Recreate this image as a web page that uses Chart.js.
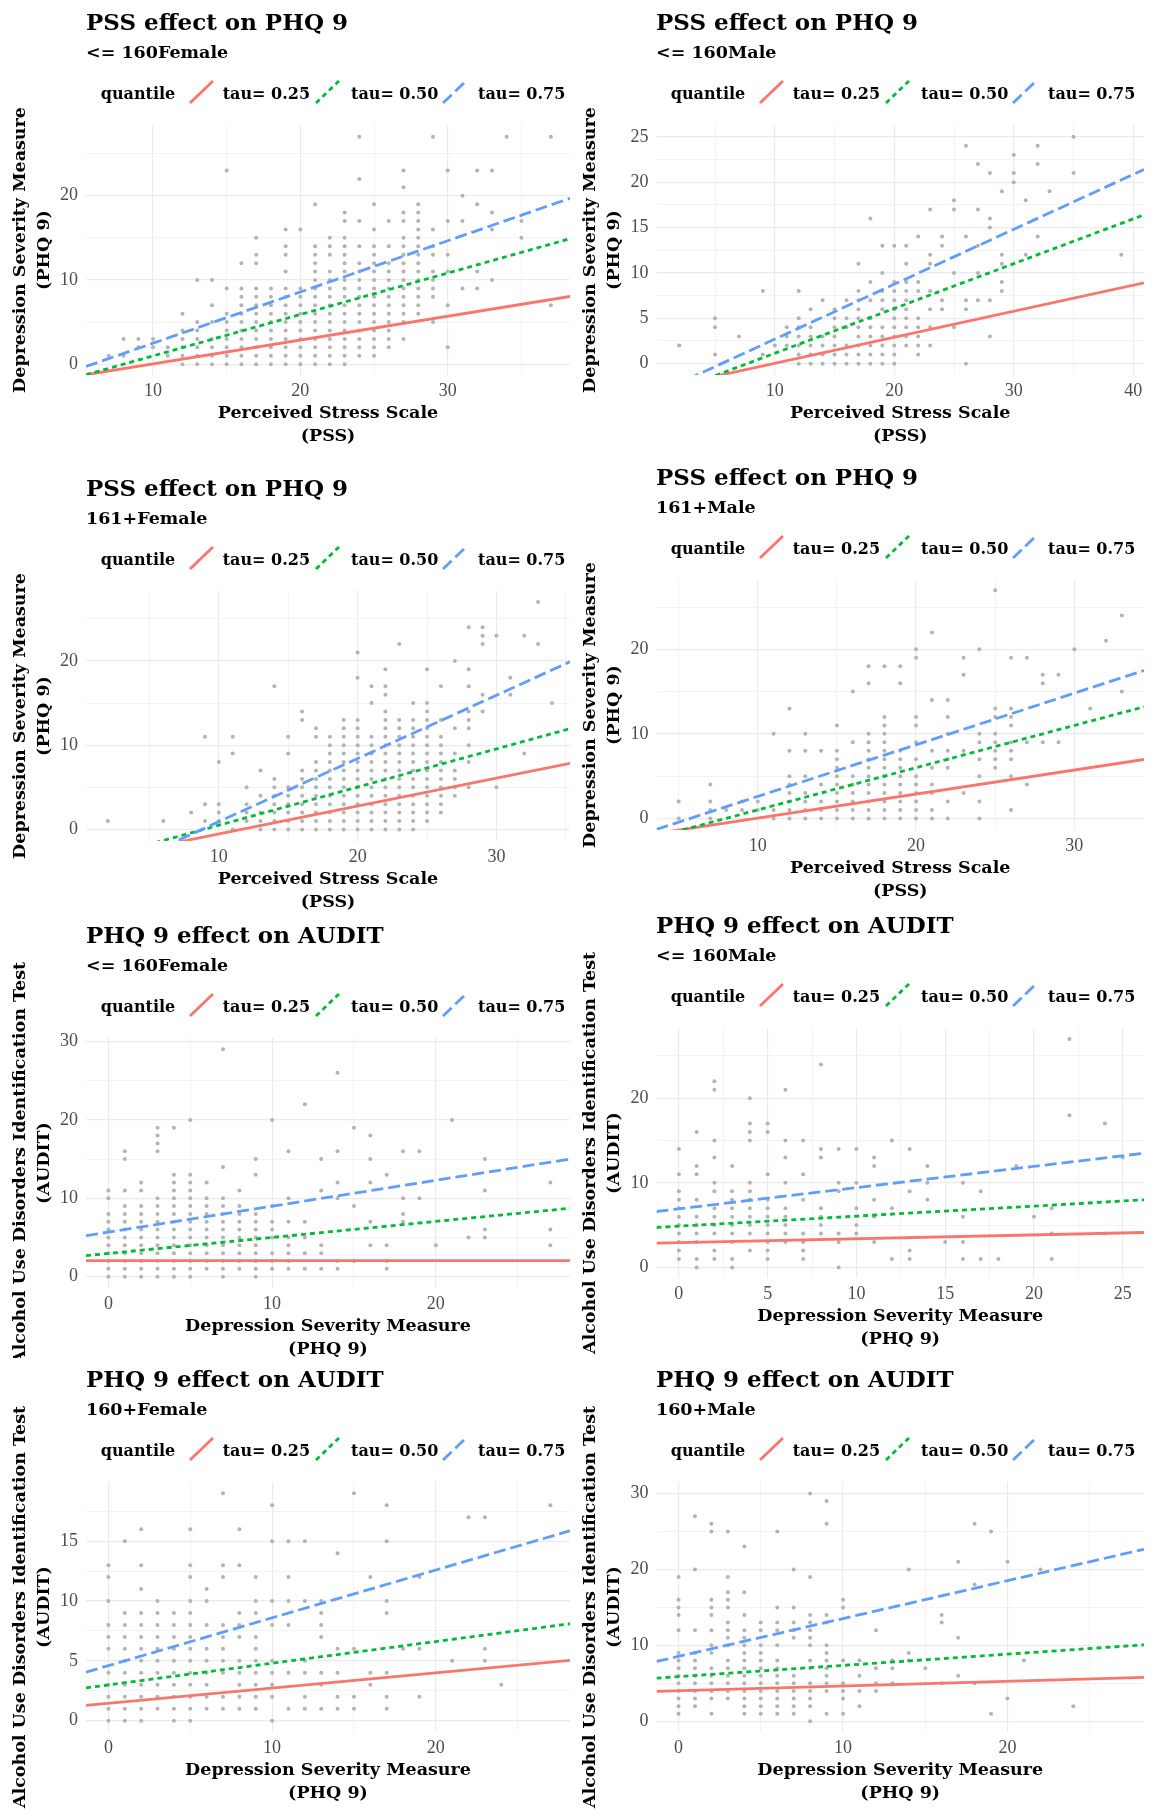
<!DOCTYPE html>
<html>
<head>
<meta charset="utf-8">
<script src="https://cdn.jsdelivr.net/npm/chart.js@4.4.0/dist/chart.umd.min.js"></script>
<style>
  body { margin: 0; background: #fff; }
  #page { position: relative; width: 1153px; height: 1810px; overflow: hidden; background: #fff; }
  .panel { position: absolute; overflow: hidden; }
  .panel canvas { position: absolute; left: 0; top: 0; }
  .txt { position: absolute; white-space: nowrap; font-family: "DejaVu Serif", serif; font-weight: bold; color: #000; }
  .ttl { left: 86px; top: 10px; font-size: 23px; line-height: 23px; }
  .sub { left: 86px; top: 44px; font-size: 17.5px; line-height: 17.5px; }
  .leg { top: 86px; font-size: 16px; line-height: 16px; }
  .glyph { position: absolute; top: 80px; }
</style>
</head>
<body>
<div id="page"></div>
<script>
// PSS -> PHQ 9, <= 160 Female
const pssF160Cols = [7, 8, 9, 10, 11, 12, 13, 14, 15, 16, 17, 18, 19, 20, 21, 22, 23, 24, 25, 26, 27, 28, 29, 30, 31, 32, 33, 34, 35, 37];
const pssF160Vals = [
  [1], [1, 3], [2, 3], [2, 3], [1, 2], [0, 1, 2, 3, 4, 6], [0, 1, 2, 3, 4, 5, 10], [0, 1, 2, 3, 5, 7, 10],
  [0, 1, 2, 3, 4, 5, 6, 9, 23], [0, 1, 2, 3, 4, 5, 6, 7, 8, 9, 12], [0, 1, 2, 3, 4, 5, 6, 7, 8, 9, 12, 13, 15],
  [0, 1, 2, 3, 4, 5, 6, 7, 8, 9], [0, 1, 2, 3, 4, 5, 6, 7, 8, 9, 11, 13, 14, 16], [0, 1, 2, 3, 4, 5, 6, 7, 8, 9, 16],
  [0, 1, 2, 3, 4, 5, 6, 7, 8, 9, 10, 11, 12, 13, 14, 19], [0, 1, 2, 3, 4, 5, 6, 7, 8, 9, 10, 11, 13, 14, 15],
  [0, 1, 2, 3, 4, 5, 6, 7, 8, 9, 10, 11, 12, 13, 14, 15, 17, 18], [1, 2, 3, 4, 5, 6, 7, 8, 9, 10, 11, 12, 14, 17, 22, 27],
  [1, 2, 3, 4, 5, 6, 7, 8, 9, 10, 11, 12, 13, 14, 16, 19], [2, 3, 4, 5, 6, 7, 8, 9, 10, 11, 12, 14, 17],
  [3, 5, 6, 7, 8, 9, 10, 11, 12, 13, 14, 15, 17, 18, 21, 23], [6, 7, 8, 9, 10, 11, 12, 13, 14, 15, 16, 17, 18, 19],
  [5, 8, 9, 10, 11, 13, 14, 16, 27], [2, 7, 11, 13, 17, 23], [9, 17, 20], [9, 11, 19, 23], [10, 16, 18, 23], [27], [15, 17], [7, 27]
];
const pssF160Tau = [[-1.25, 8.04], [-1.25, 14.9], [-0.27, 19.7]];

// PSS -> PHQ 9, <= 160 Male
const pssM160Cols = [2, 5, 7, 9, 10, 11, 12, 13, 14, 15, 16, 17, 18, 19, 20, 21, 22, 23, 24, 25, 26, 27, 28, 29, 30, 31, 32, 33, 35, 39];
const pssM160Vals = [
  [2], [1, 4, 5], [3], [1, 8], [2], [2, 3, 4], [0, 1, 2, 3, 4, 5, 8], [0, 1, 2, 3, 4, 6], [0, 1, 2, 3, 7],
  [0, 1, 2, 3, 4, 5, 6], [0, 1, 2, 4, 5, 7], [0, 1, 2, 3, 4, 5, 6, 7, 8, 11], [0, 1, 2, 3, 4, 5, 7, 9, 16],
  [0, 1, 2, 3, 4, 6, 7, 8, 10, 13], [0, 1, 2, 3, 4, 5, 6, 7, 8, 9, 13], [2, 3, 4, 5, 6, 7, 8, 9, 11, 13],
  [1, 2, 3, 4, 5, 8, 9, 14], [2, 4, 6, 8, 11, 12, 17], [6, 7, 13, 14], [4, 10, 17, 18], [0, 6, 7, 14, 24],
  [7, 10, 13, 17, 22], [3, 7, 15, 16, 21], [8, 9, 11, 12, 19], [20, 21, 23], [12, 18], [14, 22, 24], [19], [21, 25], [12]
];
const pssM160Tau = [[-2.8, 8.9], [-3.74, 16.4], [-3.29, 21.4]];

// PSS -> PHQ 9, 161+ Female
const pssF161Cols = [2, 6, 8, 9, 10, 11, 12, 13, 14, 15, 16, 17, 18, 19, 20, 21, 22, 23, 24, 25, 26, 27, 28, 29, 30, 31, 32, 33, 34];
const pssF161Vals = [
  [1], [1], [2], [1, 3, 11], [1, 2, 3, 8], [0, 9, 11], [1, 2, 3, 5], [0, 1, 2, 4, 7], [0, 1, 2, 3, 4, 5, 6, 17],
  [0, 1, 2, 3, 4, 5, 9, 11], [0, 1, 2, 3, 4, 5, 6, 7, 13, 14], [0, 1, 2, 3, 4, 5, 6, 7, 8, 11, 12],
  [0, 1, 2, 3, 4, 5, 6, 7, 8, 9, 10, 11], [0, 1, 2, 3, 4, 5, 6, 7, 8, 9, 10, 11, 12, 13],
  [0, 1, 2, 3, 4, 5, 6, 7, 8, 9, 10, 11, 12, 13, 18, 21], [0, 1, 2, 3, 4, 5, 6, 7, 8, 9, 10, 11, 15, 17],
  [0, 1, 2, 3, 4, 5, 6, 7, 8, 9, 10, 11, 12, 13, 14, 16, 17, 19], [0, 1, 2, 3, 4, 5, 6, 7, 8, 9, 10, 11, 12, 13, 22],
  [0, 1, 2, 3, 4, 5, 6, 7, 8, 9, 10, 11, 12, 13, 15], [1, 2, 3, 4, 5, 6, 7, 8, 9, 10, 11, 12, 13, 14, 15, 19],
  [2, 3, 4, 5, 6, 7, 8, 9, 10, 11, 13, 17], [4, 5, 6, 7, 9, 12, 20], [5, 8, 10, 12, 13, 14, 17, 19, 24],
  [14, 16, 22, 23, 24], [5, 23], [16, 18], [9, 23], [22, 27], [15]
];
const pssF161Tau = [[-3.7, 7.84], [-3.83, 11.96], [-6.26, 19.9]];

// PSS -> PHQ 9, 161+ Male
const pssM161Cols = [5, 7, 8, 9, 10, 11, 12, 13, 14, 15, 16, 17, 18, 19, 20, 21, 22, 23, 24, 25, 26, 27, 28, 29, 30, 31, 32, 33];
const pssM161Vals = [
  [0, 2], [0, 1, 2, 4], [1], [1, 2], [1, 2], [0, 1, 10], [0, 1, 2, 3, 4, 5, 8, 13], [0, 1, 2, 3, 5, 8, 10], [0, 1, 2, 4, 8],
  [0, 1, 2, 3, 4, 5, 6, 7, 8, 11], [0, 1, 2, 3, 4, 5, 9, 15], [0, 1, 2, 3, 4, 5, 6, 7, 8, 9, 10, 16, 18],
  [0, 1, 2, 3, 4, 5, 6, 7, 8, 9, 10, 11, 12, 18], [0, 1, 2, 3, 4, 5, 6, 7, 8, 16, 18], [0, 1, 2, 3, 4, 5, 7, 9, 11, 12, 19, 20],
  [0, 1, 3, 4, 6, 8, 14, 22], [0, 2, 6, 7, 8, 10, 12, 14], [3, 8, 17, 19], [0, 2, 5, 7, 9, 10, 20],
  [6, 7, 8, 9, 10, 12, 13, 27], [1, 5, 7, 8, 9, 11, 12, 13, 19], [4, 9, 19], [9, 16, 17], [9, 17], [20], [13], [21], [15, 24]
];
const pssM161Tau = [[-1.78, 6.97], [-2.19, 13.2], [-1.3, 17.5]];

// PHQ 9 -> AUDIT, <= 160 Female
const phqF160Cols = [0, 1, 2, 3, 4, 5, 6, 7, 8, 9, 10, 11, 12, 13, 14, 15, 16, 17, 18, 19, 20, 21, 22, 23, 27];
const phqF160Vals = [
  [0, 1, 2, 3, 4, 5, 6, 7, 8, 10, 11], [0, 1, 2, 3, 4, 5, 6, 7, 8, 9, 11, 15, 16], [0, 1, 2, 3, 4, 5, 6, 7, 8, 9, 11, 12],
  [0, 1, 2, 3, 4, 5, 6, 7, 8, 9, 10, 16, 17, 18, 19], [0, 1, 2, 3, 4, 5, 6, 7, 8, 9, 10, 11, 12, 13, 19],
  [0, 1, 2, 3, 4, 5, 6, 7, 8, 9, 10, 11, 12, 13, 20], [1, 2, 3, 4, 5, 6, 7, 8, 9, 10, 12],
  [0, 1, 2, 3, 4, 5, 6, 7, 8, 9, 10, 14, 29], [1, 2, 3, 4, 5, 6, 7, 8, 9, 11], [0, 1, 2, 3, 4, 5, 6, 7, 8, 13, 15],
  [1, 2, 3, 5, 6, 7, 9, 20], [1, 2, 3, 4, 5, 7, 10, 16], [1, 3, 5, 7, 22], [1, 3, 4, 11, 15], [1, 2, 10, 12, 16, 26],
  [2, 9, 19], [4, 7, 12, 15, 18], [1, 2, 4, 13], [7, 8, 10, 16], [10, 16], [4], [20], [5], [5, 6, 11, 15], [4, 6, 12]
];
const phqF160Tau = [[2.04, 2.04], [2.68, 8.72], [5.23, 15.0]];

// PHQ 9 -> AUDIT, <= 160 Male
const phqM160Cols = [0, 1, 2, 3, 4, 5, 6, 7, 8, 9, 10, 11, 12, 13, 14, 15, 16, 17, 18, 19, 20, 21, 22, 24, 25];
const phqM160Vals = [
  [1, 2, 3, 4, 5, 6, 7, 8, 9, 11, 14], [0, 1, 3, 4, 5, 6, 8, 11, 12, 16], [1, 2, 4, 5, 6, 7, 9, 10, 13, 15, 21, 22],
  [0, 1, 3, 4, 5, 6, 7, 8, 9, 12], [2, 4, 5, 6, 7, 8, 9, 10, 15, 16, 17, 20], [1, 2, 3, 4, 5, 6, 7, 8, 11, 16, 17],
  [3, 4, 5, 6, 7, 10, 13, 15, 21], [1, 2, 3, 4, 8, 11, 15], [4, 5, 6, 7, 13, 14, 24], [0, 3, 4, 9, 10, 14],
  [4, 5, 7, 10, 14], [3, 6, 8, 12, 13], [1, 7, 15], [1, 2, 9, 14], [8, 10, 12], [3], [1, 3, 6, 10], [1, 9], [1],
  [12], [6], [1, 4, 7], [18, 27], [4, 17], [13]
];
const phqM160Tau = [[2.87, 4.13], [4.72, 7.99], [6.61, 13.5]];

// PHQ 9 -> AUDIT, 160+ Female
const phqF161Cols = [0, 1, 2, 3, 4, 5, 6, 7, 8, 9, 10, 11, 12, 13, 14, 15, 16, 17, 18, 19, 21, 22, 23, 24, 27];
const phqF161Vals = [
  [0, 1, 2, 3, 4, 6, 7, 8, 10, 12, 13], [0, 1, 2, 3, 4, 5, 6, 7, 8, 9, 15], [0, 1, 2, 3, 4, 5, 6, 7, 8, 9, 11, 13, 16],
  [1, 2, 3, 4, 5, 6, 7, 8, 9, 10], [0, 1, 2, 3, 4, 5, 6, 7, 8, 9], [0, 1, 2, 3, 4, 5, 6, 7, 8, 9, 10, 12, 13, 16],
  [1, 2, 3, 4, 5, 6, 8, 10, 11], [1, 2, 4, 5, 6, 7, 8, 12, 13, 19], [1, 2, 3, 4, 5, 7, 8, 9, 13, 16],
  [1, 2, 3, 4, 5, 6, 7, 9, 10, 12], [0, 2, 3, 4, 5, 8, 10, 15, 18], [1, 4, 8, 10, 12, 15], [1, 2, 4, 5, 10, 15],
  [1, 3, 4, 7, 8, 9, 10], [1, 2, 4, 6, 14], [1, 2, 6, 19], [3, 4, 12], [1, 2, 4, 9, 10, 15, 18], [6], [2, 6, 12],
  [5], [17], [5, 6, 17], [3], [18]
];
const phqF161Tau = [[1.28, 5.03], [2.74, 8.1], [4.05, 15.87]];

// PHQ 9 -> AUDIT, 160+ Male
const phqM161Cols = [0, 1, 2, 3, 4, 5, 6, 7, 8, 9, 10, 11, 12, 13, 14, 15, 16, 17, 18, 19, 20, 21, 22, 24];
const phqM161Vals = [
  [1, 2, 3, 4, 5, 6, 7, 8, 9, 12, 14, 15, 16, 19], [2, 3, 4, 5, 6, 7, 8, 9, 12, 20, 27],
  [1, 3, 4, 5, 6, 7, 9, 10, 12, 14, 15, 16, 25, 26], [3, 4, 5, 6, 7, 8, 10, 11, 12, 13, 15, 16, 17, 19, 25],
  [1, 2, 3, 4, 5, 6, 7, 8, 9, 10, 11, 12, 14, 17, 23], [1, 2, 3, 4, 5, 6, 7, 8, 9, 10, 12, 13],
  [1, 2, 3, 4, 5, 6, 7, 8, 10, 12, 13, 15, 25], [1, 2, 3, 4, 5, 6, 11, 12, 13, 15, 20],
  [0, 2, 3, 4, 5, 7, 8, 10, 11, 12, 13, 14, 19, 30], [1, 4, 5, 6, 7, 8, 9, 10, 13, 14, 26, 29],
  [1, 3, 4, 5, 8, 15, 16], [2, 4, 6, 8], [4, 5, 7, 12], [5, 7, 8], [8, 9, 20], [7], [5, 13, 14], [6, 11, 21],
  [5, 18, 26], [1, 25], [3, 21], [8], [20], [2]
];
const phqM161Tau = [[3.94, 5.78], [5.69, 10.07], [7.88, 22.65]];

const tauLabels = ["tau= 0.25", "tau= 0.50", "tau= 0.75"];
const tauColors = ["#F8766D", "#00BA38", "#619CFF"];
const tauDash = [[], [5, 4], [12, 5]];

const pssX = ["Perceived Stress Scale", "(PSS)"];
const phqY = ["Depression Severity Measure", "(PHQ 9)"];
const auditY = ["Alcohol Use Disorders Identification Test", "(AUDIT)"];

const panels = [
  { left: 0, top: 0, w: 576, h: 466, pl: 86, pr: 570, title: "PSS effect on PHQ 9", sub: "<= 160Female",
    cols: pssF160Cols, vals: pssF160Vals, tau: pssF160Tau, x: [5.45, 38.3, 10], y: [-1.28, 28.4, 10], xt: pssX, yt: phqY },
  { left: 570, top: 0, w: 583, h: 455, pl: 86.5, pr: 574, title: "PSS effect on PHQ 9", sub: "<= 160Male",
    cols: pssM160Cols, vals: pssM160Vals, tau: pssM160Tau, x: [0.1, 40.9, 10], y: [-1.25, 26.3, 5], xt: pssX, yt: phqY },
  { left: 0, top: 466, w: 576, h: 447, pl: 86, pr: 570, title: "PSS effect on PHQ 9", sub: "161+Female",
    cols: pssF161Cols, vals: pssF161Vals, tau: pssF161Tau, x: [0.43, 35.3, 10], y: [-1.37, 28.3, 10], xt: pssX, yt: phqY },
  { left: 570, top: 455, w: 583, h: 448, pl: 86.5, pr: 574, title: "PSS effect on PHQ 9", sub: "161+Male",
    cols: pssM161Cols, vals: pssM161Vals, tau: pssM161Tau, x: [3.6, 34.4, 10], y: [-1.37, 28.2, 10], xt: pssX, yt: phqY },
  { left: 0, top: 913, w: 576, h: 445, pl: 86, pr: 570, title: "PHQ 9 effect on AUDIT", sub: "<= 160Female",
    cols: phqF160Cols, vals: phqF160Vals, tau: phqF160Tau, x: [-1.37, 28.2, 10], y: [-1.45, 30.45, 10], xt: phqY, yt: auditY },
  { left: 570, top: 903, w: 583, h: 454, pl: 86.5, pr: 574, title: "PHQ 9 effect on AUDIT", sub: "<= 160Male",
    cols: phqM160Cols, vals: phqM160Vals, tau: phqM160Tau, x: [-1.26, 26.2, 5], y: [-1.25, 28.3, 10], xt: phqY, yt: auditY },
  { left: 0, top: 1357, w: 576, h: 453, pl: 86, pr: 570, title: "PHQ 9 effect on AUDIT", sub: "160+Female",
    cols: phqF161Cols, vals: phqF161Vals, tau: phqF161Tau, x: [-1.37, 28.2, 10], y: [-0.95, 19.95, 5], xt: phqY, yt: auditY },
  { left: 570, top: 1357, w: 583, h: 453, pl: 86.5, pr: 574, title: "PHQ 9 effect on AUDIT", sub: "160+Male",
    cols: phqM161Cols, vals: phqM161Vals, tau: phqM161Tau, x: [-1.34, 28.3, 10], y: [-1.4, 31.5, 10], xt: phqY, yt: auditY }
];

const CANVAS_H = 460;
const PLOT_TOP = 125, PLOT_BOTTOM = 375;
const legendPos = [[188.6, 222.7], [315, 351], [442, 478]];

function toPoints(cols, vals) {
  return cols.flatMap((x, i) => vals[i].map((y) => ({ x, y })));
}

function isMajor(v, major) {
  const r = v / major;
  return Math.abs(r - Math.round(r)) < 1e-6;
}

function addText(parent, cls, text, left) {
  const el = document.createElement("div");
  el.className = "txt " + cls;
  el.textContent = text;
  if (left !== undefined) el.style.left = left + "px";
  parent.appendChild(el);
}

function addGlyph(parent, i, left) {
  const ns = "http://www.w3.org/2000/svg";
  const svg = document.createElementNS(ns, "svg");
  svg.setAttribute("width", "25");
  svg.setAttribute("height", "24");
  svg.setAttribute("class", "glyph");
  svg.style.left = left + "px";
  const line = document.createElementNS(ns, "line");
  line.setAttribute("x1", "1");
  line.setAttribute("y1", "23");
  line.setAttribute("x2", "24");
  line.setAttribute("y2", "1");
  line.setAttribute("stroke", tauColors[i]);
  line.setAttribute("stroke-width", "2.8");
  if (tauDash[i].length) line.setAttribute("stroke-dasharray", tauDash[i].join(" "));
  svg.appendChild(line);
  parent.appendChild(svg);
}

function axisOpts(range, title, horizontal, p) {
  const [min, max, major] = range;
  const titleFont = { family: "DejaVu Serif", weight: "bold", size: 17.5, lineHeight: horizontal ? 1.285 : 1.37 };
  return {
    type: "linear",
    min,
    max,
    ticks: {
      stepSize: major / 2,
      includeBounds: false,
      autoSkip: false,
      maxRotation: 0,
      padding: horizontal ? 5 : 8,
      color: "#4D4D4D",
      font: { family: "Liberation Serif", size: 18 },
      callback: (v) => (isMajor(v, major) ? v : "")
    },
    grid: {
      color: "#EBEBEB",
      drawTicks: false,
      lineWidth: (ctx) => (ctx.tick && isMajor(ctx.tick.value, major) ? 1.2 : 0.6)
    },
    border: { display: false },
    title: {
      display: true,
      text: title,
      color: "#000",
      font: titleFont,
      padding: horizontal ? { top: 0, bottom: CANVAS_H - 436 - (17.5 * 1.285) / 2 } : { top: 8, bottom: 0 }
    },
    afterFit: (s) => {
      if (horizontal) s.height = CANVAS_H - PLOT_BOTTOM;
      else s.width = p.pl;
    }
  };
}

function drawPanel(p) {
  const page = document.getElementById("page");
  const box = document.createElement("div");
  box.className = "panel";
  box.style.left = p.left + "px";
  box.style.top = p.top + "px";
  box.style.width = p.w + "px";
  box.style.height = p.h + "px";
  page.appendChild(box);

  const canvas = document.createElement("canvas");
  canvas.width = p.w;
  canvas.height = CANVAS_H;
  box.appendChild(canvas);

  addText(box, "ttl", p.title);
  addText(box, "sub", p.sub);
  addText(box, "leg", "quantile", 100.7);
  tauLabels.forEach((lab, i) => {
    addGlyph(box, i, legendPos[i][0]);
    addText(box, "leg", lab, legendPos[i][1]);
  });

  const lines = p.tau.map((t, i) => ({
    data: [{ x: p.x[0], y: t[0] }, { x: p.x[1], y: t[1] }],
    showLine: true,
    borderColor: tauColors[i],
    borderWidth: 2.8,
    borderDash: tauDash[i],
    pointRadius: 0,
    fill: false,
    clip: 0
  })).reverse();

  new Chart(canvas, {
    type: "scatter",
    data: {
      datasets: [
        ...lines,
        {
          data: toPoints(p.cols, p.vals),
          pointRadius: 2,
          pointBackgroundColor: "#B3B3B3",
          pointBorderWidth: 0,
          showLine: false
        }
      ]
    },
    options: {
      responsive: false,
      animation: false,
      devicePixelRatio: 1,
      layout: { padding: { top: PLOT_TOP, left: 0, right: p.w - p.pr, bottom: 0 } },
      plugins: { legend: { display: false }, tooltip: { enabled: false } },
      scales: {
        x: axisOpts(p.x, p.xt, true, p),
        y: axisOpts(p.y, p.yt, false, p)
      }
    }
  });
}

panels.forEach(drawPanel);
</script>
</body>
</html>
